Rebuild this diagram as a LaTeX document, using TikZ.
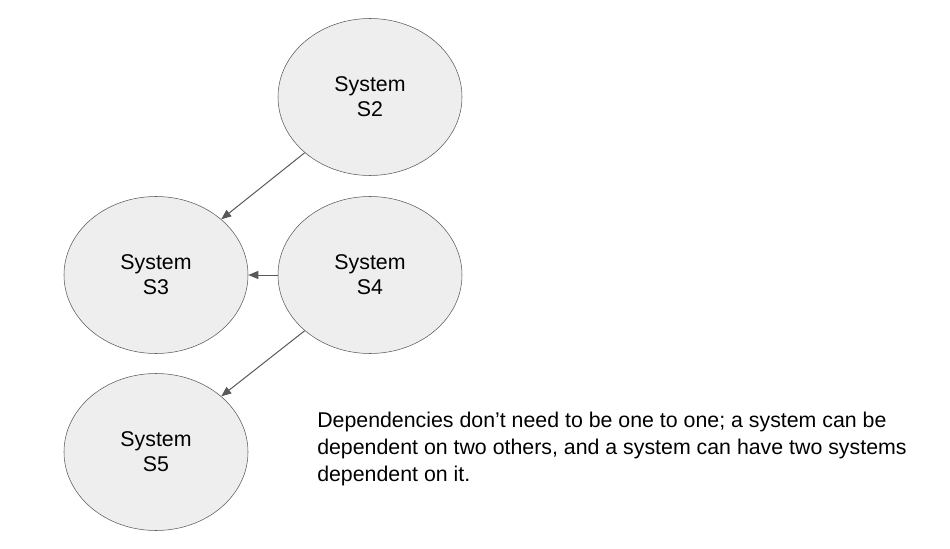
\documentclass[tikz,border=0pt]{standalone}
\usepackage{fontspec}
\setmainfont{Liberation Sans}
\usepackage{xcolor}
\usetikzlibrary{shapes.geometric}
\usetikzlibrary{arrows.meta}

\definecolor{bulle}{HTML}{EEEEEE}
\definecolor{trait}{HTML}{595959}

\begin{document}
\begin{tikzpicture}[x=0.75pt,y=-0.75pt]

\tikzset{
    sys/.style = {
    ellipse, draw=trait, fill=bulle,
    minimum width = 184*0.75pt,
    minimum height = 157*0.75pt,
    inner sep=0pt,
    align=center,
    font=\fontsize{16}{18.75}\selectfont
    }
}

\tikzstyle{dep}=[draw=trait, line width=0.75pt, -{Triangle[length=7.5pt,width=6pt]}]

\useasboundingbox (0,0) rectangle (950,549);

\node (s2) [sys] at (370,97) {System\\S2};
\node (s3) [sys] at (156,275) {System\\S3};
\node (s4) [sys] at (370,275) {System\\S4};
\node (s5) [sys] at (156,452) {System\\S5};

\draw [dep] (s2.south west) -- (s3.north east);
\draw [dep] (s4.west) -- (s3.east);
\draw [dep] (s4.south west) -- (s5.north east);

\node (note) [anchor=north west, align=left, inner sep=0pt,
  font=\fontsize{16}{20}\selectfont] at (317,412)
  {Dependencies don’t need to be one to one; a system can be\\
   dependent on two others, and a system can have two systems\\
   dependent on it.};

\end{tikzpicture}
\end{document}
